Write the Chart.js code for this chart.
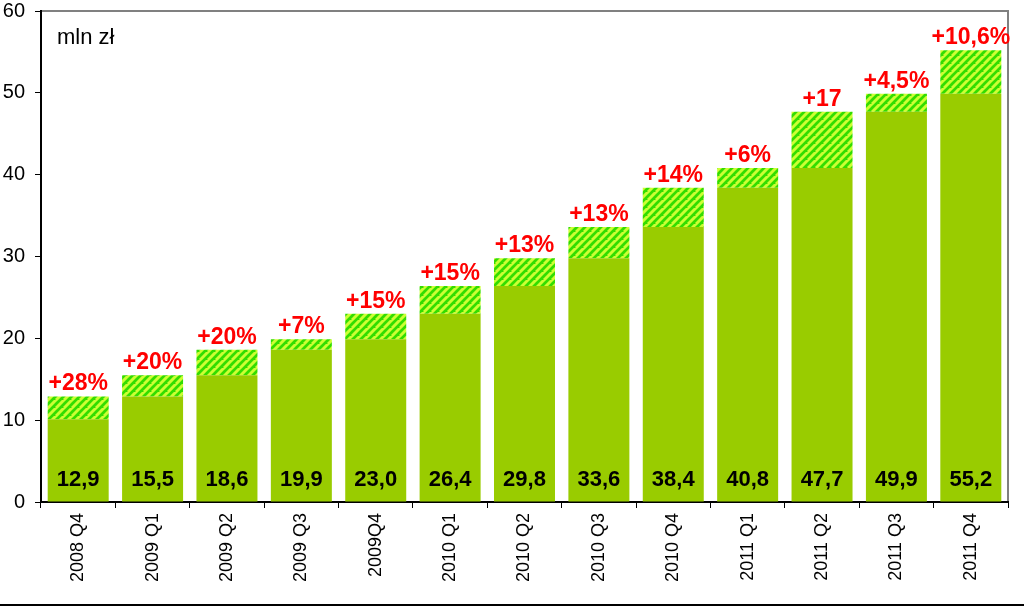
<!DOCTYPE html>
<html>
<head>
<meta charset="utf-8">
<script src="https://cdn.jsdelivr.net/npm/chart.js@4.4.0/dist/chart.umd.min.js"></script>
<style>
  html, body { margin: 0; padding: 0; background: #fff; }
  #wrap { width: 1024px; height: 604px; border-bottom: 2px solid #000; }
</style>
</head>
<body>
<div id="wrap"><canvas id="chart" width="1024" height="604"></canvas></div>
<script>
// Quarterly values, mln zł
const quarters = ["2008 Q4", "2009 Q1", "2009 Q2", "2009 Q3", "2009Q4", "2010 Q1", "2010 Q2",
  "2010 Q3", "2010 Q4", "2011 Q1", "2011 Q2", "2011 Q3", "2011 Q4"];
const totals = [12.9, 15.5, 18.6, 19.9, 23.0, 26.4, 29.8, 33.6, 38.4, 40.8, 47.7, 49.9, 55.2];
// previous quarter level (solid part) and growth (hatched part)
const baseValues = [10.1, 12.9, 15.5, 18.6, 19.9, 23.0, 26.4, 29.8, 33.6, 38.4, 40.8, 47.7, 49.9];
const growthValues = [2.8, 2.6, 3.1, 1.3, 3.1, 3.4, 3.4, 3.8, 4.8, 2.4, 6.9, 2.2, 5.3];
const growthLabels = ["+28%", "+20%", "+20%", "+7%", "+15%", "+15%", "+13%", "+13%", "+14%",
  "+6%", "+17", "+4,5%", "+10,6%"];
const yTicks = [0, 10, 20, 30, 40, 50, 60];

const FONT = "Arial, 'Liberation Sans', sans-serif";

// hatch pattern: green with yellow diagonal stripes
function makeHatch() {
  const c = document.createElement("canvas");
  c.width = 8;
  c.height = 8;
  const g = c.getContext("2d");
  g.fillStyle = "#33dd00";
  g.fillRect(0, 0, 8, 8);
  g.strokeStyle = "#ccff33";
  g.lineWidth = 3;
  g.beginPath();
  for (let k = -8; k <= 16; k += 8) {
    g.moveTo(k - 8, 8);
    g.lineTo(k + 8, -8);
  }
  g.stroke();
  return g.createPattern(c, "repeat");
}

const ctx = document.getElementById("chart").getContext("2d");

const labelsPlugin = {
  id: "labels",
  beforeDraw(chart) {
    const a = chart.chartArea;
    const c = chart.ctx;
    c.save();
    c.strokeStyle = "#808080";
    c.lineWidth = 2;
    c.beginPath();
    c.moveTo(a.left, a.top);
    c.lineTo(a.right, a.top);
    c.lineTo(a.right, a.bottom);
    c.stroke();
    c.restore();
  },
  afterDatasetsDraw(chart) {
    const c = chart.ctx;
    const y = chart.scales.y;
    const top = chart.getDatasetMeta(1).data;
    c.save();
    c.textAlign = "center";
    top.forEach((bar, i) => {
      c.font = "bold 23px " + FONT;
      c.fillStyle = "#ff0000";
      c.textBaseline = "alphabetic";
      c.fillText(growthLabels[i], bar.x, bar.y - 6);
      c.font = "bold 22px " + FONT;
      c.fillStyle = "#000";
      c.fillText(totals[i].toFixed(1).replace(".", ","), bar.x, y.getPixelForValue(0) - 16);
    });
    c.restore();
    // unit label
    const a = chart.chartArea;
    c.save();
    c.font = "22px " + FONT;
    c.fillStyle = "#000";
    c.textBaseline = "alphabetic";
    c.fillText("mln zł", a.left + 16, a.top + 33);
    c.restore();
  }
};

new Chart(ctx, {
  type: "bar",
  data: {
    labels: quarters,
    datasets: [
      {
        label: "base",
        data: baseValues,
        backgroundColor: "#99cc00",
        borderWidth: 0,
        barPercentage: 0.82,
        categoryPercentage: 1,
      },
      {
        label: "growth",
        data: growthValues,
        backgroundColor: makeHatch(),
        borderWidth: 0,
        barPercentage: 0.82,
        categoryPercentage: 1,
      },
    ],
  },
  options: {
    responsive: false,
    animation: false,
    layout: { padding: { left: 0, right: 16, top: 11, bottom: 0 } },
    plugins: {
      legend: { display: false },
      tooltip: { enabled: false },
    },
    scales: {
      x: {
        stacked: true,
        grid: { drawOnChartArea: false, drawTicks: true, tickLength: 6, color: "#000", offset: true },
        border: { display: true, color: "#000", width: 2 },
        ticks: {
          minRotation: 90,
          maxRotation: 90,
          padding: 5,
          color: "#000",
          font: { family: FONT, size: 18 },
        },
        afterFit(scale) {
          scale.height = 102;
          scale.paddingLeft = 0;
          scale.paddingRight = 0;
        },
      },
      y: {
        stacked: true,
        min: 0,
        max: 60,
        afterBuildTicks(scale) { scale.ticks = yTicks.map(v => ({ value: v })); },
        grid: { drawOnChartArea: false, drawTicks: true, tickLength: 6, color: "#000" },
        border: { display: true, color: "#000", width: 2 },
        ticks: {
          padding: 10,
          color: "#000",
          font: { family: FONT, size: 20 },
        },
        afterFit(scale) {
          scale.width = 41;
          scale.paddingTop = 0;
          scale.paddingBottom = 0;
        },
      },
    },
  },
  plugins: [labelsPlugin],
});
</script>
</body>
</html>
